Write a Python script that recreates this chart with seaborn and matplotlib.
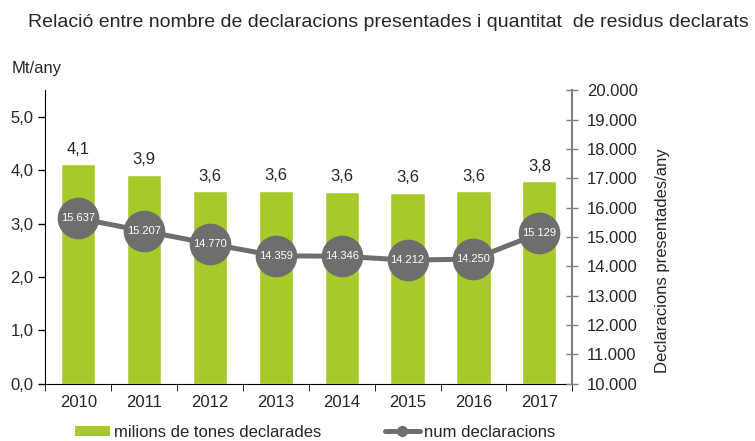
import matplotlib
matplotlib.use('Agg')
import matplotlib.pyplot as plt
import seaborn as sns
from matplotlib.patches import Patch
from matplotlib.lines import Line2D

sns.set_style('white')
plt.rcParams['font.family'] = ['Liberation Sans', 'DejaVu Sans']

years = ['2010', '2011', '2012', '2013', '2014', '2015', '2016', '2017']
tones = [4.12, 3.92, 3.61, 3.62, 3.60, 3.58, 3.61, 3.80]
tones_labels = ['4,1', '3,9', '3,6', '3,6', '3,6', '3,6', '3,6', '3,8']
declaracions = [15637, 15207, 14770, 14359, 14346, 14212, 14250, 15129]
left_ticks = [0, 1, 2, 3, 4, 5]
right_ticks = list(range(10000, 20001, 1000))

green = '#a8c92a'
grey = '#6e6f6d'

fig = plt.figure(figsize=(7.55, 4.41), dpi=100)
ax = fig.add_axes([0.06, 0.13, 0.698, 0.665])

sns.barplot(x=years, y=tones, color=green, saturation=1, width=0.52, ax=ax)
for i, lab in enumerate(tones_labels):
    ax.text(i, tones[i] + 0.14, lab, ha='center', va='bottom', fontsize=12)

ax.set_ylim(0, 5.5)
ax.set_xlim(-0.5, 7.5)
ax.set_yticks(left_ticks)
ax.set_yticklabels([f'{t:.1f}'.replace('.', ',') for t in left_ticks], fontsize=12)
ax.tick_params(axis='y', direction='out', length=5, width=1, color='black', left=True)
ax.tick_params(axis='x', which='major', length=0, labelsize=12, pad=8)
ax.set_xticks([i - 0.5 for i in range(len(years) + 1)], minor=True)
ax.tick_params(axis='x', which='minor', direction='out', length=5, color='black', bottom=True)
for s in ['top', 'right']:
    ax.spines[s].set_visible(False)
ax.spines['left'].set_color('black')
ax.spines['bottom'].set_color('black')

ax2 = ax.twinx()
sns.lineplot(x=list(range(len(years))), y=declaracions, color=grey, linewidth=3.6,
             marker='o', markersize=30, markeredgewidth=0, ax=ax2, zorder=3)
for i, v in enumerate(declaracions):
    ax2.text(i, v, f'{v:,}'.replace(',', '.'), ha='center', va='center',
             fontsize=8, color='white', zorder=4)
ax2.set_ylim(10000, 20000)
ax2.set_xlim(-0.5, 7.5)
ax2.set_yticks(right_ticks)
ax2.set_yticklabels([f'{t:,}'.replace(',', '.') for t in right_ticks], fontsize=12)
ax2.tick_params(axis='y', direction='inout', length=9, width=1, color='#808080', right=True, pad=6)
for s in ['top', 'left', 'bottom']:
    ax2.spines[s].set_visible(False)
ax2.spines['right'].set_color('#808080')
ax2.spines['right'].set_linewidth(1.5)
ax2.set_ylabel('Declaracions presentades/any', fontsize=12)
ax2.yaxis.set_label_coords(1.157, 0.418)

fig.text(0.037, 0.95, 'Relació entre nombre de declaracions presentades i quantitat  de residus declarats',
         fontsize=14, ha='left', va='center')
fig.text(0.016, 0.845, 'Mt/any', fontsize=12, ha='left', va='center')

handles = [Patch(facecolor=green, edgecolor='none'),
           Line2D([0], [0], color=grey, linewidth=3.6, marker='o', markersize=7)]
fig.legend(handles, ['milions de tones declarades', 'num declaracions'],
           loc='center', bbox_to_anchor=(0.417, 0.02), ncol=2, frameon=False,
           fontsize=12, handlelength=2.1, handleheight=0.6, columnspacing=3.8,
           handletextpad=0.25, borderpad=0)

fig.savefig('out.png', dpi=100)
